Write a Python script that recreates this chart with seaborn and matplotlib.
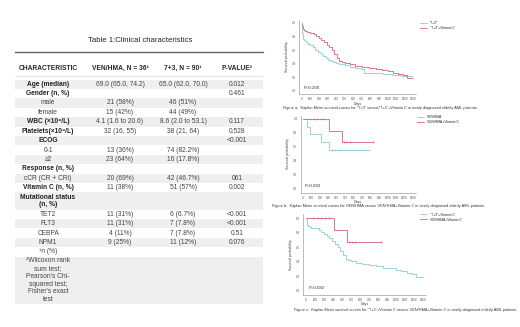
# Table 1 plus three Kaplan-Meier panels
import matplotlib.pyplot as plt
import seaborn as sns
import pandas as pd

# table data
col_heads = ['CHARACTERISTIC', 'VEN/HMA, N = 36¹', '7+3, N = 90¹', 'P-VALUE²']
row_names = ['Age (median)', 'Gender (n, %)', 'male', 'female', 'WBC (×10⁹/L)',
             'Platelets(×10⁹/L)', 'ECOG', '0-1', '≥2', 'Response (n, %)',
             'cCR (CR + CRi)', 'Vitamin C (n, %)', 'Mutational status\n(n, %)',
             'TET2', 'FLT3', 'CEBPA', 'NPM1', '¹n (%)',
             '²Wilcoxon rank\nsum test;\nPearson\'s Chi-\nsquared test;\nFisher\'s exact\ntest']
ven_vals = ['69.0 (65.0, 74.2)', '', '21 (58%)', '15 (42%)', '4.1 (1.6 to 20.6)',
            '32 (16, 55)', '', '13 (36%)', '23 (64%)', '', '20 (69%)', '11 (38%)', '',
            '11 (31%)', '11 (31%)', '4 (11%)', '9 (25%)', '', '']
std_vals = ['65.0 (62.0, 70.0)', '', '46 (51%)', '44 (49%)', '8.6 (2.0 to 53.1)',
            '38 (21, 64)', '', '74 (82.2%)', '16 (17.8%)', '', '42 (46.7%)', '51 (57%)', '',
            '6 (6.7%)', '7 (7.8%)', '7 (7.8%)', '11 (12%)', '', '']
p_vals = ['0.012', '0.461', '', '', '0.117', '0.528', '<0.001', '', '', '', '061', '0.002', '',
          '<0.001', '<0.001', '0.51', '0.076', '', '']
bold_rows = ['Age (median)', 'Gender (n, %)', 'WBC (×10⁹/L)', 'Platelets(×10⁹/L)', 'ECOG',
             'Response (n, %)', 'Vitamin C (n, %)', 'Mutational status\n(n, %)']

# Kaplan-Meier step data (days, survival)
t_73 = [0, 5, 10, 15, 20, 30, 45, 60, 80, 100, 130, 160, 190, 220, 250, 280, 310, 340,
        370, 400, 440, 500, 560, 620, 690, 720, 800, 880, 950, 1050, 1150, 1300]
s_73 = [1.0, 0.92, 0.85, 0.80, 0.77, 0.75, 0.73, 0.71, 0.69, 0.67, 0.64, 0.61, 0.58, 0.55,
        0.52, 0.49, 0.46, 0.44, 0.42, 0.41, 0.40, 0.38, 0.36, 0.34, 0.32, 0.27, 0.27, 0.26,
        0.25, 0.23, 0.22, 0.22]
t_73c = [0, 8, 15, 25, 40, 60, 100, 140, 170, 200, 230, 260, 290, 320, 350, 380, 410, 440,
         470, 500, 560, 620, 700, 780, 860, 940, 1000, 1060, 1120, 1180, 1220, 1300]
s_73c = [1.0, 0.95, 0.91, 0.89, 0.88, 0.87, 0.86, 0.84, 0.81, 0.78, 0.75, 0.72, 0.68, 0.64,
         0.60, 0.55, 0.49, 0.44, 0.42, 0.41, 0.39, 0.37, 0.35, 0.34, 0.32, 0.31, 0.29, 0.27,
         0.25, 0.23, 0.19, 0.19]
t_ven = [0, 50, 80, 210, 310, 790]
s_ven = [1.0, 0.89, 0.78, 0.67, 0.56, 0.56]
cens_ven_t = [340, 380, 430]
cens_ven_s = [0.56, 0.56, 0.56]
t_venc = [0, 310, 460, 830]
s_venc = [1.0, 0.83, 0.67, 0.67]
cens_venc_t = [80, 130, 170, 210, 250, 480, 510, 550, 830]
cens_venc_s = [1.0, 1.0, 1.0, 1.0, 1.0, 0.67, 0.67, 0.67, 0.67]

RED = '#d9607a'
BLUE = '#8ccbd9'

sns.set_theme(style='white')
plt.rcParams['font.family'] = ['Liberation Sans', 'DejaVu Sans']

W, H = 520, 327
fig = plt.figure(figsize=(W / 100, H / 100), dpi=100)


def box(l, t, r, b):
    return [l / W, 1 - b / H, (r - l) / W, (b - t) / H]


# ---- the table, drawn in pixel coordinates ----
tab = fig.add_axes([0, 0, 270 / W, 1])
tab.set_xlim(0, 270)
tab.set_ylim(H, 0)
tab.axis('off')

tab.text(140, 40, 'Table 1:Clinical characteristics', ha='center', va='center', fontsize=5.6)
tab.plot([15, 263], [52, 52], color='#666666', lw=1.0)
xs = [48, 120, 183, 237]
for x, h in zip(xs, col_heads):
    tab.text(x, 68, h, ha='center', va='center', fontsize=4.8, fontweight='bold')
tab.plot([15, 263], [76, 76], color='#cccccc', lw=0.4)

row_h = 9.4
line_h = 7.6
y = 79.5
for i, name in enumerate(row_names):
    n_lines = name.count('\n') + 1
    h = row_h if n_lines == 1 else n_lines * line_h + 2
    if i % 2 == 0:
        tab.fill_between([15, 263], y, y + h, color='#efefef', lw=0)
    yc = y + h / 2
    tab.text(xs[0], yc, name, ha='center', va='center', fontsize=4.8, linespacing=1.15,
             fontweight='bold' if name in bold_rows else 'normal',
             color='#222222' if name in bold_rows else '#444444')
    for x, v in zip(xs[1:], [ven_vals[i], std_vals[i], p_vals[i]]):
        tab.text(x, yc, v, ha='center', va='center', fontsize=4.8, color='#444444')
    y += h


# ---- Kaplan-Meier panels ----
def km_panel(rect, curves, pval, caption, cap_x, cap_y, leg_anchor):
    ax = fig.add_axes(rect)
    for t, s, lab, col, ct, cs in curves:
        d = pd.DataFrame({'Days': t, 'surv': s})
        sns.lineplot(data=d, x='Days', y='surv', ax=ax, color=col, lw=0.6,
                     drawstyle='steps-post', estimator=None, sort=False, label=lab)
        if ct:
            sns.scatterplot(x=ct, y=cs, ax=ax, color=col, marker='+', s=4,
                            linewidth=0.4, legend=False)
    ax.set_xlim(-30, 1330)
    ax.set_ylim(-0.05, 1.05)
    ax.set_xticks(range(0, 1301, 100))
    ax.set_yticks([0, 0.2, 0.4, 0.6, 0.8, 1.0])
    ax.set_yticklabels(['0.0', '0.2', '0.4', '0.6', '0.8', '1.0'])
    ax.tick_params(labelsize=2.2, length=1.2, width=0.3, pad=1, colors='#555555')
    ax.set_xlabel('Days', fontsize=2.6, labelpad=0.5, color='#444444')
    ax.set_ylabel('Survival probability', fontsize=2.6, labelpad=2, color='#444444')
    sns.despine(ax=ax)
    for sp in ['left', 'bottom']:
        ax.spines[sp].set_linewidth(0.4)
        ax.spines[sp].set_color('#888888')
    ax.text(0.04, 0.07, pval, transform=ax.transAxes, fontsize=3.2, color='#333333')
    ax.legend(loc='upper left', bbox_to_anchor=leg_anchor, fontsize=2.4, frameon=False,
              handlelength=2.2, labelspacing=0.3, borderaxespad=0)
    fig.text(cap_x / W, 1 - cap_y / H, caption, fontsize=2.8, va='center', color='#333333')
    return ax


km_panel(box(299, 19.6, 416, 94.4),
         [(t_73, s_73, '"7+3"', BLUE, None, None),
          (t_73c, s_73c, '"7+3"+Vitamin C', RED, None, None)],
         'P=0.200',
         'Figure a:  Kaplan Meier survival curves for "7+3" versus"7+3"+Vitamin C in newly diagnosed elderly AML patients.',
         283, 108.5, (1.02, 1.0))

km_panel(box(300.5, 115.5, 415.5, 192.5),
         [(t_ven, s_ven, 'VEN/HMA', BLUE, cens_ven_t, cens_ven_s),
          (t_venc, s_venc, 'VEN/HMA+Vitamin C', RED, cens_venc_t, cens_venc_s)],
         'P=0.083',
         'Figure b:  Kaplan Meier survival curves for VEN/HMA versus VEN/HMA+Vitamin C in newly diagnosed elderly AML patients.',
         272, 205.5, (1.0, 1.02))

km_panel(box(303.3, 214.4, 425.7, 294.6),
         [(t_73c, s_73c, '"7+3"+Vitamin C', BLUE, None, None),
          (t_venc, s_venc, 'VEN/HMA+Vitamin C', RED, cens_venc_t, cens_venc_s)],
         'P=0.082',
         'Figure c:  Kaplan Meier survival curves for "7+3"+Vitamin C versus VEN/HMA+Vitamin C in newly diagnosed elderly AML patients.',
         294, 309.5, (0.94, 1.04))

fig.savefig('out.png', dpi=100)
